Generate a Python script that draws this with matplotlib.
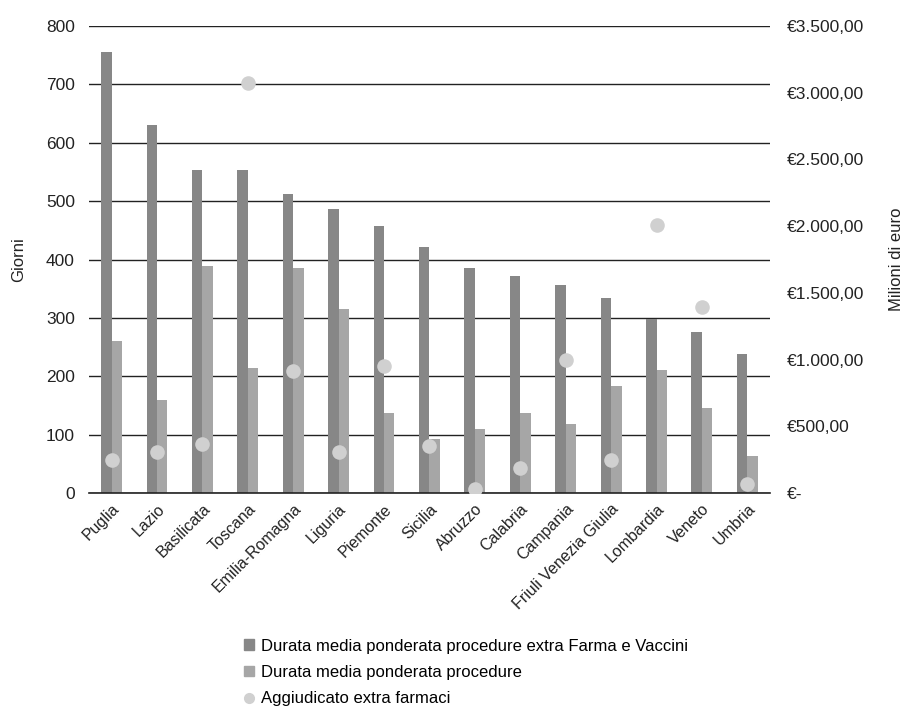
import numpy as np
import matplotlib
matplotlib.use('Agg')
import matplotlib.pyplot as plt
from matplotlib.lines import Line2D
from matplotlib.patches import Patch

plt.rcParams['font.family'] = ['Liberation Sans', 'DejaVu Sans']

regioni = ['Puglia', 'Lazio', 'Basilicata', 'Toscana', 'Emilia-Romagna', 'Liguria',
           'Piemonte', 'Sicilia', 'Abruzzo', 'Calabria', 'Campania',
           'Friuli Venezia Giulia', 'Lombardia', 'Veneto', 'Umbria']
durata_extra = [755, 630, 553, 553, 513, 486, 458, 421, 385, 371, 357, 334, 298, 275, 238]
durata = [261, 160, 389, 215, 385, 316, 137, 92, 110, 137, 119, 183, 210, 146, 64]
aggiudicato = [250, 310, 370, 3070, 913, 310, 951, 350, 30, 190, 994, 250, 2010, 1394, 70]

col_dark = '#878787'
col_light = '#a6a6a6'
col_dot = '#d0d0d0'
col_text = '#222222'

fig = plt.figure(figsize=(9.07, 7.10), dpi=100)
ax = fig.add_axes([0.098, 0.3056, 0.751, 0.6578])
ax2 = ax.twinx()

x = np.arange(len(regioni))
w = 0.23
ax.bar(x - w / 2, durata_extra, w, color=col_dark, zorder=3)
ax.bar(x + w / 2, durata, w, color=col_light, zorder=3)
ax2.scatter(x, aggiudicato, s=110, color=col_dot, zorder=4, linewidths=0)

ax.set_xlim(-0.5, len(regioni) - 0.5)
ax.set_ylim(0, 800)
ax.set_yticks(range(0, 801, 100))
ax2.set_ylim(0, 3500)
ax2.set_yticks(range(0, 3501, 500))
euro = ['€-'] + ['€{:,.2f}'.format(v).replace(',', 'X').replace('.', ',').replace('X', '.')
                 for v in range(500, 3501, 500)]
ax2.set_yticklabels(euro)

ax.grid(axis='y', color=col_text, linewidth=1.0, zorder=0)
ax.axhline(0, color=col_text, linewidth=1.2, zorder=5, clip_on=False)
ax.set_axisbelow(True)
for a in (ax, ax2):
    for s in a.spines.values():
        s.set_visible(False)
    a.tick_params(length=0, labelsize=12.5, colors=col_text)
ax.tick_params(axis='y', pad=10)
ax2.tick_params(axis='y', pad=12)

ax.set_xticks(x)
ax.set_xticklabels(regioni, rotation=45, ha='right', rotation_mode='anchor', fontsize=11.5)
ax.tick_params(axis='x', pad=6)

ax.set_ylabel('Giorni', fontsize=12, color=col_text, labelpad=14)
ax2.set_ylabel('Milioni di euro', fontsize=12, color=col_text, labelpad=18)

handles = [Patch(color=col_dark), Patch(color=col_light),
           Line2D([], [], marker='o', linestyle='', color=col_dot, markersize=7)]
labels = ['Durata media ponderata procedure extra Farma e Vaccini',
          'Durata media ponderata procedure',
          'Aggiudicato extra farmaci']
fig.legend(handles, labels, loc='upper left', bbox_to_anchor=(0.262, 0.110),
           frameon=False, fontsize=12, handlelength=0.6, handleheight=0.6,
           handletextpad=0.4, labelspacing=0.68, borderaxespad=0)

fig.savefig('out.png', dpi=100)
